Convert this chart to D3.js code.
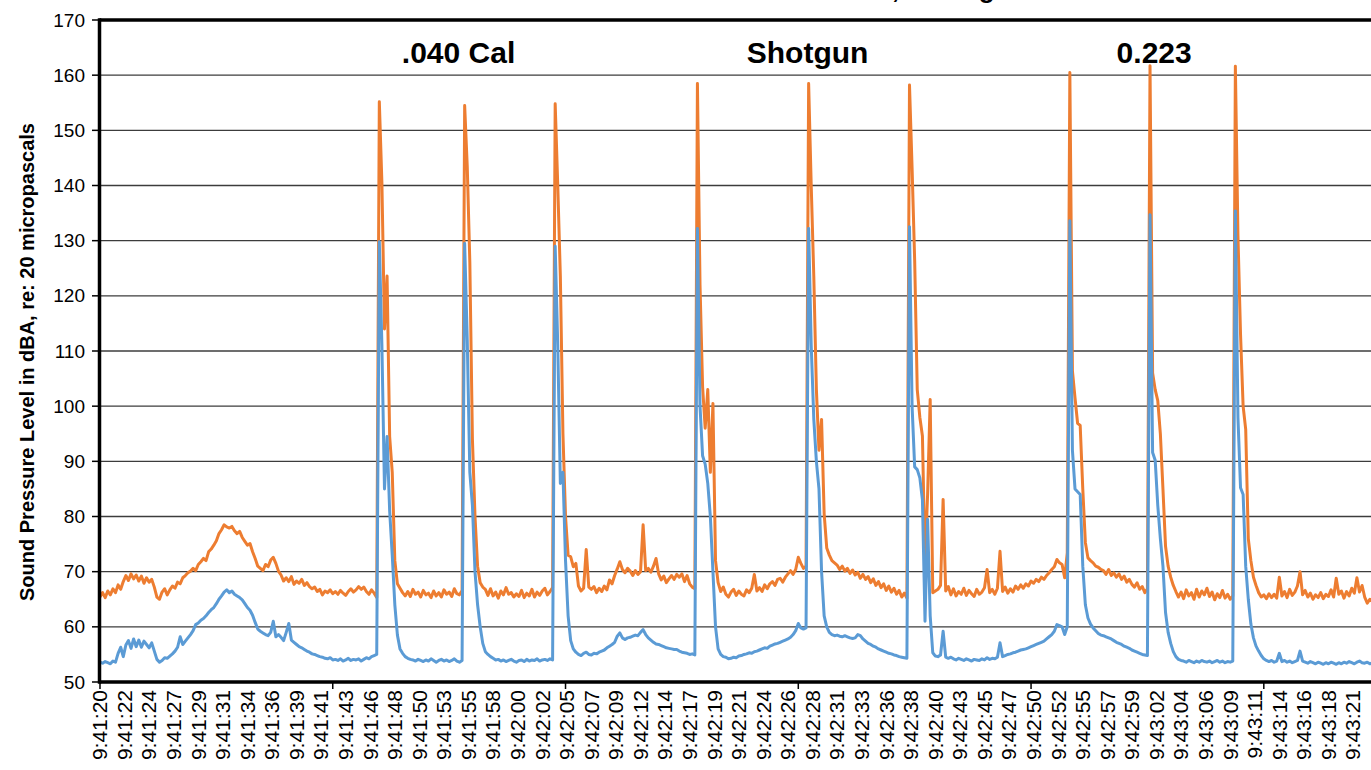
<!DOCTYPE html>
<html><head><meta charset="utf-8">
<script src="https://cdn.jsdelivr.net/npm/d3@7"></script>
<style>
body{margin:0;background:#fff;}
svg{display:block;font-family:"Liberation Sans",Arial,Helvetica,sans-serif;}
</style>
</head><body>
<svg id="chart" width="1371" height="770"></svg>
<script>
// ---- DATA ----
const chartTitle = "Sound Levels Behind the Shooter, A-Weighted";
const yAxisTitle = "Sound Pressure Level in dBA, re: 20 micropascals";
const sampleStep = 0.25;      // seconds between samples
const labelStep = 2.375;      // seconds between category labels
const majorTickStep = 22.5;   // seconds between x tick marks
const xTickLabels = ["9:41:20","9:41:22","9:41:24","9:41:27","9:41:29","9:41:31","9:41:34","9:41:36","9:41:39","9:41:41",
  "9:41:43","9:41:46","9:41:48","9:41:50","9:41:53","9:41:55","9:41:58","9:42:00","9:42:02","9:42:05",
  "9:42:07","9:42:09","9:42:12","9:42:14","9:42:17","9:42:19","9:42:21","9:42:24","9:42:26","9:42:28",
  "9:42:31","9:42:33","9:42:36","9:42:38","9:42:40","9:42:43","9:42:45","9:42:47","9:42:50","9:42:52",
  "9:42:55","9:42:57","9:42:59","9:43:02","9:43:04","9:43:06","9:43:09","9:43:11","9:43:14","9:43:16",
  "9:43:18","9:43:21"];
const yTicks = [50,60,70,80,90,100,110,120,130,140,150,160,170];
const annotationLabels = [".040 Cal","Shotgun","0.223"];
const annotationTimes = [34.66, 68.4, 101.9];
const annotationLevel = 162.2;

// Orange series (upper)
const seriesOrange = [
65.4,66.2,65.3,66.5,65.8,66.9,66.2,67.6,66.8,68.2,
69.3,68.4,69.6,68.7,69.4,68.3,69.2,67.9,68.9,68.1,
68.6,67.2,65.4,65.0,66.3,66.9,65.8,66.7,67.4,67.0,
68.1,67.8,68.9,69.3,69.8,70.1,70.6,70.2,71.3,71.8,
72.4,72.0,73.6,74.1,74.8,75.6,76.9,77.6,78.5,78.1,
77.9,78.2,77.4,76.9,77.3,76.2,75.5,74.8,75.1,73.6,
72.4,71.0,70.6,70.2,71.3,70.9,72.1,72.6,71.5,70.1,
69.4,68.3,68.9,68.2,69.1,67.7,68.3,67.9,68.6,67.5,
68.0,67.3,66.9,67.2,66.4,66.8,65.8,66.5,66.2,66.7,
66.0,66.4,65.9,66.6,66.1,65.7,66.4,66.9,66.3,66.7,
67.3,66.8,67.2,66.4,65.9,66.7,66.1,65.3,
155.2,140.5,114,123.6,94.5,88,72,67.8,
67.0,66.2,65.6,66.4,65.5,66.8,65.9,66.3,65.4,66.6,
65.8,66.1,65.3,66.5,65.6,66.2,65.4,66.7,65.9,66.3,
65.5,66.9,66.0,65.8,66.6,
154.5,143.5,126,94,80,71,68,67.2,
66.8,65.7,66.9,65.6,66.3,65.2,66.5,65.8,67.1,65.9,
66.2,65.4,66.0,65.5,66.6,65.3,66.1,65.6,66.8,65.4,
66.3,65.7,66.5,67.0,65.8,66.4,67.1,
154.8,140,123.5,95,80,73,72.7,70.9,71.5,67.4,66.5,67.0,74.0,
67.2,66.8,67.3,66.2,67.0,66.4,67.4,66.7,68.5,67.8,
69.3,70.5,71.8,70.4,69.8,70.6,70.1,69.3,70.2,69.5,
70.0,78.5,70.2,70.6,69.9,71.0,72.4,69.6,68.5,69.2,
68.0,68.7,69.3,68.6,69.5,69.0,69.6,68.2,69.3,67.8,
67.2,66.9,
158.5,122,103.5,96,103,88,100.5,72,68,
66.4,67.2,65.9,65.4,66.3,66.8,65.7,66.5,65.9,65.6,
66.7,66.2,67.0,69.5,66.5,67.1,66.4,67.6,66.9,67.8,
68.2,67.5,68.6,68.8,68.1,69.0,69.6,70.2,69.5,70.4,
72.6,71.5,70.6,71.0,
158.5,140,123.5,103,92,97.6,80.5,74.3,73,72,71.6,
71.2,70.4,71.0,70.1,70.6,69.7,70.3,69.4,69.9,68.8,
69.5,68.6,69.1,68.0,68.7,67.5,68.2,67.1,67.8,66.6,
67.4,66.3,67.0,65.9,66.6,65.4,66.1,65.2,
158.2,143.2,126.4,103,98,94.6,71.6,84,101.2,66.2,66.5,66.8,67.5,83.1,
66.5,67.3,65.8,66.9,65.6,66.4,65.9,67.0,65.7,66.6,
66.0,65.5,66.8,65.9,66.3,67.1,70.4,66.2,66.8,65.9,
67.0,73.7,66.4,67.2,66.1,66.9,66.3,67.4,66.8,67.6,
67.0,67.8,67.4,68.3,67.9,68.6,68.2,69.0,68.6,69.3,
69.8,70.4,70.9,72.2,71.6,71.3,68.9,73.4,
160.5,106.4,101.5,96.9,96.5,85,75.3,72.5,72.0,71.6,71.0,70.8,70.4,
70.2,69.5,70.4,69.3,69.8,69.0,69.6,68.6,69.2,68.1,
68.6,67.7,67.2,68.0,66.8,67.3,66.2,66.9,
161.7,106,103,101,95,85,74.6,71,69,67.5,66.4,65.4,
66.3,65.1,66.7,65.6,66.2,65.0,66.8,65.4,66.5,65.8,
67.0,65.5,66.3,64.9,66.0,65.3,66.6,65.2,65.9,65.0,65.6,
161.6,131,113,100,95.8,76,72,69,67.5,66.2,65.4,
65.8,65.1,66.0,65.3,65.9,65.2,69.0,65.6,66.4,65.3,
66.8,65.7,66.3,67.4,70.0,65.8,66.6,65.4,66.1,65.0,
65.8,65.3,66.2,65.1,65.9,65.5,66.7,65.4,68.8,65.9,
66.5,65.2,66.4,65.6,67.0,66.1,68.9,66.3,67.5,65.4,
64.3,65.0,64.6
];

// Blue series (lower)
const seriesBlue = [
53.6,53.4,53.7,53.5,53.3,53.8,53.6,55.2,56.3,54.6,
56.7,57.5,56.1,57.8,56.4,57.6,56.3,57.4,56.8,56.2,
57.1,55.6,54.1,53.6,53.9,54.4,54.3,54.7,55.1,55.6,
56.3,58.2,56.8,57.4,58.0,58.6,59.3,60.4,60.7,61.2,
61.5,62.0,62.6,63.1,63.5,64.2,65.0,65.6,66.3,66.7,
66.2,66.5,65.9,65.6,65.3,64.9,64.2,63.5,63.0,62.1,
60.8,59.6,59.2,58.9,58.6,58.4,59.0,61.0,58.2,58.6,
58.1,57.5,59.0,60.6,57.6,57.2,56.8,56.4,56.2,55.9,
55.6,55.4,55.1,55.0,54.8,54.6,54.5,54.3,54.2,54.4,
54.0,54.1,53.9,54.2,53.8,54.0,54.3,53.9,54.1,54.0,
54.2,53.8,54.1,54.4,54.2,54.6,54.8,55.0,
129.8,111,85,94.5,81,73,64,58.5,
56.0,55.2,54.6,54.3,54.1,54.0,53.8,54.1,53.9,53.7,
54.0,53.8,54.2,53.9,53.6,53.9,54.1,53.8,54.0,53.7,
53.9,54.2,53.8,53.6,53.9,
129.5,112,88,82,70,64,60,57,
55.5,55.0,54.6,54.3,54.0,54.1,53.8,54.0,53.7,53.9,
54.1,53.8,53.6,53.9,54.0,53.7,54.1,53.8,54.0,53.9,
54.2,53.8,54.0,54.1,53.9,54.2,54.0,
129,111,86,88,72,62,57.5,56,55.4,55.0,54.8,55.2,55.4,
55.0,54.9,55.2,55.1,55.4,55.6,55.8,56.2,56.5,56.8,
57.2,58.3,58.9,58.0,57.7,58.0,58.1,58.3,58.5,58.4,
59.0,59.5,58.6,58.0,57.6,57.2,56.9,56.8,56.6,56.4,
56.2,56.1,56.0,55.9,55.9,55.6,55.4,55.3,55.2,55.0,
55.1,54.9,
132.2,100,91,89.5,86,80,70,60,56,
55.0,54.6,54.5,54.2,54.3,54.5,54.4,54.7,54.8,55.0,
55.1,55.3,55.2,55.5,55.6,55.8,56.0,56.2,56.1,56.5,
56.7,56.9,57.0,57.2,57.4,57.6,57.8,58.1,58.6,59.3,
60.6,59.8,59.6,59.8,
132.2,111,97.6,90,85,70,62,60,59,58.6,58.4,
58.5,58.3,58.2,58.4,58.2,58.0,57.9,58.0,58.6,58.4,
57.8,57.4,57.0,56.8,56.5,56.3,56.0,55.8,55.6,55.4,
55.2,55.1,54.9,54.8,54.6,54.5,54.4,54.3,
132.5,100,89,88.5,87,83,61,79.5,62,55.3,54.7,54.6,54.9,59.2,
54.5,54.3,54.5,54.2,54.0,54.3,54.1,53.9,54.2,54.0,
53.8,54.1,54.0,53.9,54.2,54.0,54.4,54.1,54.3,54.2,
54.5,57.1,54.6,54.8,55.0,55.1,55.3,55.4,55.6,55.8,
55.9,56.0,56.2,56.4,56.6,56.8,57.0,57.2,57.4,57.8,
58.2,58.6,59.2,60.4,60.2,60.0,58.6,60.0,
133.6,92,85,84.5,84,71,64,61.6,60.5,59.8,59.3,58.8,58.5,
58.4,58.2,58.0,57.8,57.5,57.2,57.0,56.8,56.5,56.3,
56.1,55.8,55.6,55.4,55.2,55.0,54.9,54.8,
134.7,91.6,90.2,82,76,71,62.6,59,57,55.5,54.6,54.1,
53.9,53.8,53.6,53.9,53.7,53.5,53.8,53.6,53.9,53.7,
53.6,53.8,53.5,53.7,53.9,53.6,53.8,53.5,53.7,53.6,53.8,
135.4,98,85.2,84,71,65,60.5,58,56.5,55.6,54.8,
54.2,53.9,53.7,53.9,53.6,53.8,55.2,53.7,53.9,53.6,
53.8,53.5,53.7,53.9,55.6,53.8,53.6,53.4,53.7,53.5,
53.3,53.6,53.4,53.2,53.5,53.3,53.6,53.4,53.2,53.5,
53.3,53.6,53.4,53.7,53.5,53.3,53.6,53.8,53.5,53.4,
53.6,53.3,53.5
];

// ---- DRAWING ----
const svg = d3.select("#chart");
const W = 1371, H = 770;
const plotLeft = 99.5, plotTop = 20, plotBottom = 682;
const x = d3.scaleLinear().domain([0, 123]).range([100, 100 + 123 * 10.345]);
const y = d3.scaleLinear().domain([50, 170]).range([plotBottom, plotTop]);

// gridlines
svg.append("g").selectAll("line").data(yTicks.filter(v => v > 50 && v < 170)).join("line")
  .attr("x1", plotLeft).attr("x2", W).attr("y1", d => y(d)).attr("y2", d => y(d))
  .attr("stroke", "#3c3c3c").attr("stroke-width", 1.4);

// series
const line = d3.line().x((d, i) => x(i * sampleStep)).y(d => y(d));
svg.append("path").datum(seriesOrange).attr("d", line)
  .attr("fill", "none").attr("stroke", "#ED7D31").attr("stroke-width", 3)
  .attr("stroke-linejoin", "round");
svg.append("path").datum(seriesBlue).attr("d", line)
  .attr("fill", "none").attr("stroke", "#5B9BD5").attr("stroke-width", 3)
  .attr("stroke-linejoin", "round");

// frame / axes
svg.append("line").attr("x1", plotLeft).attr("x2", W).attr("y1", plotTop).attr("y2", plotTop)
  .attr("stroke", "#000").attr("stroke-width", 3.5);
svg.append("line").attr("x1", plotLeft).attr("x2", W).attr("y1", plotBottom).attr("y2", plotBottom)
  .attr("stroke", "#000").attr("stroke-width", 3.5);
svg.append("line").attr("x1", plotLeft).attr("x2", plotLeft).attr("y1", plotTop - 1.7).attr("y2", plotBottom + 1.7)
  .attr("stroke", "#000").attr("stroke-width", 3.5);

// y axis ticks and labels
const yAxisG = svg.append("g");
yAxisG.selectAll("line").data(yTicks).join("line")
  .attr("x1", 92).attr("x2", plotLeft).attr("y1", d => y(d)).attr("y2", d => y(d))
  .attr("stroke", "#000").attr("stroke-width", 1.5);
yAxisG.selectAll("text").data(yTicks).join("text")
  .attr("x", 85).attr("y", d => y(d)).attr("dy", "0.35em")
  .attr("text-anchor", "end").attr("font-size", 19).attr("fill", "#000")
  .text(d => d);

// x ticks
const majorTicks = d3.range(0, 123, majorTickStep);
svg.append("g").selectAll("line").data(majorTicks).join("line")
  .attr("x1", d => x(d)).attr("x2", d => x(d)).attr("y1", plotBottom).attr("y2", plotBottom + 7)
  .attr("stroke", "#000").attr("stroke-width", 1.5);

// x labels
svg.append("g").selectAll("text").data(xTickLabels).join("text")
  .attr("transform", (d, i) => `translate(${x(i * labelStep)},${plotBottom + 8}) rotate(-90)`)
  .attr("dy", "0.35em").attr("text-anchor", "end").attr("font-size", 21).attr("fill", "#000")
  .text(d => d);

// y axis title
svg.append("text")
  .attr("transform", `translate(34,362) rotate(-90)`)
  .attr("text-anchor", "middle").attr("font-size", 20).attr("font-weight", "bold").attr("fill", "#000")
  .text(yAxisTitle);

// annotations
svg.append("g").selectAll("text").data(annotationLabels).join("text")
  .attr("x", (d, i) => x(annotationTimes[i])).attr("y", y(annotationLevel))
  .attr("text-anchor", "middle").attr("font-size", 30).attr("font-weight", "bold").attr("fill", "#000")
  .text(d => d);

// title (top mostly cut off, as in the reference)
const title = svg.append("text").attr("x", 0).attr("y", -2)
  .attr("font-size", 26).attr("font-weight", "bold").attr("fill", "#000").text(chartTitle);
const commaIdx = chartTitle.indexOf(",");
const pre = title.node().getSubStringLength(0, commaIdx);
title.attr("x", 892 - pre);
</script>
</body></html>
